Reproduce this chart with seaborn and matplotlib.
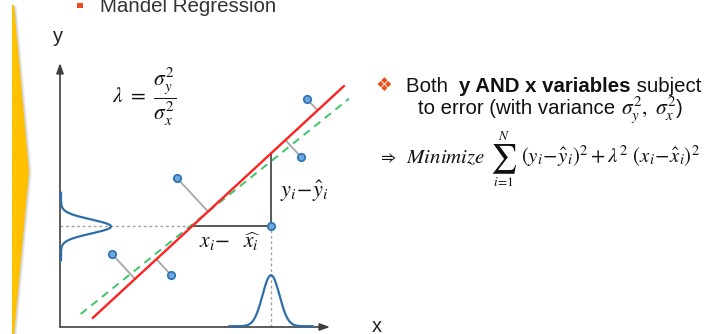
import numpy as np
import pandas as pd
import matplotlib
matplotlib.use("Agg")
import matplotlib.pyplot as plt
import seaborn as sns
from matplotlib.patches import Polygon, Rectangle

sns.set_theme(style="white")
plt.rcParams["font.family"] = ["Liberation Sans", "DejaVu Sans"]
plt.rcParams["mathtext.fontset"] = "stix"

# ---------------- data (chart units, origin at the axes corner) ----------------
point_x = [247, 241, 117, 211, 52, 111]
point_y = [228, 170, 149, 101, 73, 52]
focus_idx = 3
red_line_x = [32.7, 284.0]
red_line_y = [9.0, 241.0]
green_line_x = [20.7, 289.0]
green_line_y = [13.0, 228.3]
gauss_y_mu, gauss_y_sigma, gauss_y_peak, gauss_y_half = 100.5, 7.0, 50.0, 34.0
gauss_x_mu, gauss_x_sigma, gauss_x_peak, gauss_x_half = 211.0, 8.5, 51.0, 42.0
x_axis_len, y_axis_len = 270, 264

# ---------------- figure ----------------
W, H = 718, 334
OX, OY = 60, 327
fig = plt.figure(figsize=(W / 100, H / 100), dpi=100)
fig.patch.set_facecolor("white")
ax = fig.add_axes([0, 0, 1, 1])
ax.set_xlim(-OX, W - OX)
ax.set_ylim(OY - H, OY)
ax.axis("off")


def P(px, py):
    return (px - OX, OY - py)


# yellow chevron with soft shadow
for k, a in [(3.0, 0.12), (2.0, 0.18), (1.0, 0.25)]:
    ax.add_patch(Polygon([P(13, 6), P(14 + k, 6), P(29 + k, 172), P(14 + k, 334), P(13, 334)],
                         closed=True, facecolor="#9a9a9a", edgecolor="none", alpha=a, zorder=1))
ax.add_patch(Polygon([P(12, 5), P(14, 5), P(29, 172), P(14, 334), P(12, 334)],
                     closed=True, facecolor="#FFC000", edgecolor="none", zorder=2))

# header
ax.add_patch(Rectangle(P(77, 8), 5.5, 5.5, facecolor="#E84C1E", edgecolor="none"))
ax.text(*P(100, 12.5), "Mandel Regression", fontsize=14.8, color="#333333",
        ha="left", va="baseline")

# axes arrows
axis_col = "#404040"
ax.annotate("", xy=(0, y_axis_len), xytext=(0, 0),
            arrowprops=dict(arrowstyle="-|>,head_length=0.5,head_width=0.18",
                            color=axis_col, lw=1.2, shrinkA=0, shrinkB=0))
ax.annotate("", xy=(x_axis_len, 0), xytext=(0, 0),
            arrowprops=dict(arrowstyle="-|>,head_length=0.5,head_width=0.18",
                            color=axis_col, lw=1.2, shrinkA=0, shrinkB=0))
ax.text(*P(58, 42.5), "y", fontsize=14.5, color="#222222", ha="center", va="baseline")
ax.text(*P(377, 332.5), "x", fontsize=14.5, color="#222222", ha="center", va="baseline")

# regression lines
red_df = pd.DataFrame({"x": red_line_x, "y": red_line_y})
green_df = pd.DataFrame({"x": green_line_x, "y": green_line_y})
sns.lineplot(data=green_df, x="x", y="y", ax=ax, color="#3DC46A", lw=1.4,
             dashes=False, linestyle=(0, (4, 3)), zorder=4)
sns.lineplot(data=red_df, x="x", y="y", ax=ax, color="#FF2222", lw=1.7, zorder=5)

# perpendicular feet on the red line
px_arr = np.array(point_x, float)
py_arr = np.array(point_y, float)
x0, y0 = red_line_x[0], red_line_y[0]
dx, dy = red_line_x[1] - x0, red_line_y[1] - y0
norm = np.hypot(dx, dy)
ux, uy = dx / norm, dy / norm
t = (px_arr - x0) * ux + (py_arr - y0) * uy
foot_x = x0 + t * ux
foot_y = y0 + t * uy
for i in range(len(point_x)):
    if i == focus_idx:
        continue
    ax.plot([px_arr[i], foot_x[i]], [py_arr[i], foot_y[i]], color="#A6A6A6",
            lw=1.3, zorder=3, solid_capstyle="butt")

# residual rectangle for focus point
fx, fy = px_arr[focus_idx], py_arr[focus_idx]
red_slope = dy / dx
red_at_fx = y0 + red_slope * (fx - x0)
x_at_fy = x0 + (fy - y0) / red_slope
ax.plot([fx, fx], [fy, red_at_fx], color="#595959", lw=1.4, zorder=3)
ax.plot([x_at_fy, fx], [fy, fy], color="#595959", lw=1.4, zorder=3)
ax.plot([0, x_at_fy], [fy, fy], color="#A0A0A0", lw=1.0, linestyle=(0, (2, 2)), zorder=2)
ax.plot([fx, fx], [0, fy], color="#A0A0A0", lw=1.0, linestyle=(0, (2, 2)), zorder=2)

# gaussian error densities
gy = np.linspace(gauss_y_mu - gauss_y_half, gauss_y_mu + gauss_y_half, 200)
gyx = gauss_y_peak * np.exp(-0.5 * ((gy - gauss_y_mu) / gauss_y_sigma) ** 2)
ax.plot(gyx + 1.0, gy, color="#2F6EAA", lw=1.6, zorder=4)
gx = np.linspace(gauss_x_mu - gauss_x_half, gauss_x_mu + gauss_x_half, 200)
gxy = gauss_x_peak * np.exp(-0.5 * ((gx - gauss_x_mu) / gauss_x_sigma) ** 2)
gdf = pd.DataFrame({"x": gx, "y": gxy + 0.8})
sns.lineplot(data=gdf, x="x", y="y", ax=ax, color="#2F6EAA", lw=1.6, zorder=4)

# points
pdf = pd.DataFrame({"x": point_x, "y": point_y})
sns.scatterplot(data=pdf, x="x", y="y", ax=ax, s=28, color="#6FA8DC",
                edgecolor="#2E75B6", linewidth=1.3, zorder=6)

# math labels
ax.text(*P(112, 97), r"$\lambda\ =\ \dfrac{\sigma_y^2}{\sigma_x^2}$", fontsize=15.5,
        ha="left", va="center", color="#111111")
ax.text(*P(280, 191), r"$y_i\!-\!\hat{y}_i$", fontsize=16, ha="left", va="center",
        color="#111111")
ax.text(*P(199, 242), r"$x_i\!-\ \ \widehat{x_i}$", fontsize=15.5, ha="left",
        va="center", color="#111111")

# right-hand text
ax.text(*P(384, 85), "\u2756", fontsize=13.5, color="#E8501E", family="DejaVu Sans",
        ha="center", va="center")
fs = 14.7
fig.canvas.draw()
r = fig.canvas.get_renderer()


def run(pieces, x_start, y_base):
    xc = x_start
    for s, wt, size in pieces:
        tt = ax.text(xc, y_base, s, fontsize=size, fontweight=wt, color="#111111",
                     ha="left", va="baseline")
        xc += tt.get_window_extent(renderer=r).width


run([("Both  ", "normal", fs), ("y AND x variables", "bold", fs), (" subject", "normal", fs)],
    *P(406, 91.5))
run([("to error (with variance ", "normal", fs),
     (r"$\sigma_y^2,\ \sigma_x^2$", "normal", 15.5), (")", "normal", fs)],
    *P(418, 114))

# minimisation line
ax.text(*P(378, 162), r"$\Rightarrow$", fontsize=12, color="#111111", ha="left", va="baseline")
ax.text(*P(406, 163), r"$Minimize$", fontsize=15, color="#111111", ha="left", va="baseline")
ax.text(*P(503.5, 159), r"$\sum$", fontsize=21, color="#111111", ha="center", va="center")
ax.text(*P(503.5, 137), r"$N$", fontsize=9.5, color="#111111", ha="center", va="center")
ax.text(*P(503.5, 182), r"$i\!=\!1$", fontsize=9.5, color="#111111", ha="center", va="center")
ax.text(*P(521, 163), r"$(y_i\!-\!\hat{y}_i)^2+\lambda^2\ (x_i\!-\!\hat{x}_i)^2$", fontsize=15,
        color="#111111", ha="left", va="baseline")

fig.savefig("out.png", dpi=100, facecolor="white")
